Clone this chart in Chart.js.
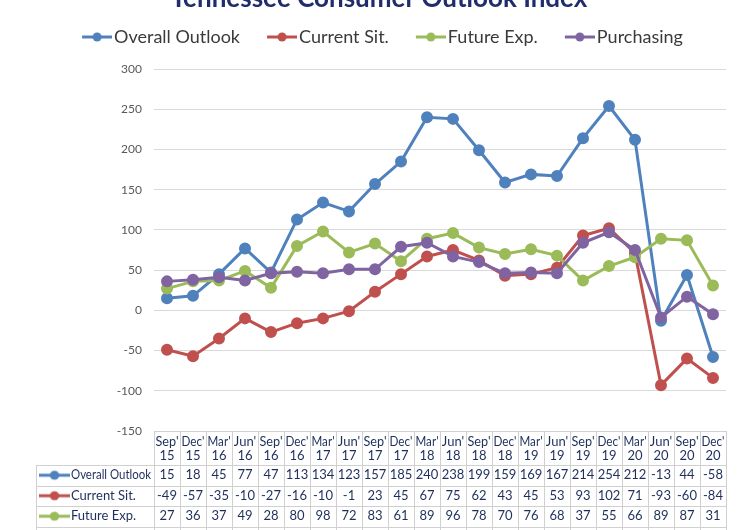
<!DOCTYPE html>
<html>
<head>
<meta charset="utf-8">
<title>Tennessee Consumer Outlook Index</title>
<script src="https://cdn.jsdelivr.net/npm/chart.js@4.4.1/dist/chart.umd.min.js"></script>
<style>
  html, body { margin: 0; padding: 0; background: #fff; }
  #wrap { position: relative; width: 750px; height: 530px; overflow: hidden; }
  #chart { position: absolute; left: 0; top: -20px; }
</style>
</head>
<body>
<div id="wrap"><canvas id="chart" width="750" height="550"></canvas></div>
<script>
// quarters shown on the x axis / table header
const categories = ["Sep' 15", "Dec' 15", "Mar' 16", "Jun' 16", "Sep' 16", "Dec' 16", "Mar' 17", "Jun' 17",
    "Sep' 17", "Dec' 17", "Mar' 18", "Jun' 18", "Sep' 18", "Dec' 18", "Mar' 19", "Jun' 19",
    "Sep' 19", "Dec' 19", "Mar' 20", "Jun' 20", "Sep' 20", "Dec' 20"];

const seriesNames = ['Overall Outlook', 'Current Sit.', 'Future Exp.', 'Purchasing'];
const overall = [15, 18, 45, 77, 47, 113, 134, 123, 157, 185, 240, 238, 199, 159, 169, 167, 214, 254, 212, -13, 44, -58];
const current = [-49, -57, -35, -10, -27, -16, -10, -1, 23, 45, 67, 75, 62, 43, 45, 53, 93, 102, 71, -93, -60, -84];
const future = [27, 36, 37, 49, 28, 80, 98, 72, 83, 61, 89, 96, 78, 70, 76, 68, 37, 55, 66, 89, 87, 31];
// purchasing row is cut off in the table
const purchasing = [36, 38, 41, 37, 46, 48, 46, 51, 51, 79, 84, 67, 60, 46, 47, 46, 84, 97, 75, -9, 17, -5];

const yTicks = { min: -150, max: 300, step: 50 };

const colors = ['#4F81BD', '#C0504D', '#9BBB59', '#8064A2'];
const textNavy = '#1F2F5C';
const gridGray = '#D9D9D9';
const FONT = 'Lato, "Open Sans", sans-serif';

// little line+dot key; pad shifts it right inside a wider canvas
function makeKey(color, pad) {
    const c = document.createElement('canvas');
    c.width = 30 + pad; c.height = 12;
    const g = c.getContext('2d');
    g.strokeStyle = color; g.lineWidth = 3;
    g.beginPath(); g.moveTo(pad, 6); g.lineTo(pad + 30, 6); g.stroke();
    g.fillStyle = color;
    g.beginPath(); g.arc(pad + 15, 6, 4.5, 0, Math.PI * 2); g.fill();
    return c;
}
const keys = colors.map(c => makeKey(c, 0));
const legendKeys = colors.map(c => makeKey(c, 14));

// stretch the gap below the legend
const legendGap = {
    id: 'legendGap',
    beforeInit(chart) {
        const fit = chart.legend.fit;
        chart.legend.fit = function () {
            fit.bind(chart.legend)();
            this.height += 13;
        };
    }
};

// data table under the plot, aligned to the category scale
const dataTable = {
    id: 'dataTable',
    afterDraw(chart) {
        const ctx = chart.ctx;
        const x = chart.scales.x;
        const area = chart.chartArea;
        const colW = (area.right - area.left) / categories.length;
        const top = area.bottom;
        const headH = 34;
        const rowH = 20.5;
        const labelLeft = 36;
        const rows = [overall, current, future, purchasing];
        const bottom = top + headH + rowH * rows.length;

        ctx.save();
        ctx.strokeStyle = '#D0D0D0';
        ctx.lineWidth = 1;
        ctx.beginPath();
        // vertical lines
        for (let i = 0; i <= categories.length; i++) {
            const px = Math.round(area.left + i * colW) + 0.5;
            ctx.moveTo(px, top);
            ctx.lineTo(px, bottom);
        }
        ctx.moveTo(labelLeft + 0.5, top + headH);
        ctx.lineTo(labelLeft + 0.5, bottom);
        // horizontal lines
        ctx.moveTo(area.left, Math.round(top) + 0.5);
        ctx.lineTo(area.right, Math.round(top) + 0.5);
        for (let r = 0; r <= rows.length; r++) {
            const py = Math.round(top + headH + r * rowH) + 0.5;
            ctx.moveTo(labelLeft, py);
            ctx.lineTo(area.right, py);
        }
        ctx.stroke();

        ctx.fillStyle = textNavy;
        ctx.font = '13px ' + FONT;
        ctx.textAlign = 'center';
        ctx.textBaseline = 'middle';
        const cellMax = colW - 3;
        categories.forEach((c, i) => {
            const cx = x.getPixelForValue(i);
            const parts = c.split(' ');
            ctx.fillText(parts[0], cx, top + 10.5, cellMax);
            ctx.fillText(parts[1], cx, top + 25, cellMax);
        });
        rows.forEach((vals, r) => {
            const cy = top + headH + r * rowH + rowH / 2;
            vals.forEach((v, i) => ctx.fillText(String(v), x.getPixelForValue(i), cy, cellMax));
            ctx.drawImage(keys[r], 39, cy - 6, 31, 12);
            ctx.textAlign = 'left';
            ctx.fillText(seriesNames[r], 71, cy, 80);
            ctx.textAlign = 'center';
        });
        ctx.restore();
    }
};

const seriesData = [overall, current, future, purchasing];

new Chart(document.getElementById('chart'), {
    type: 'line',
    data: {
        labels: categories,
        datasets: seriesData.map((d, i) => ({
            label: seriesNames[i],
            data: d,
            borderColor: colors[i],
            backgroundColor: colors[i],
            pointBackgroundColor: colors[i],
            pointBorderColor: colors[i],
            borderWidth: 3,
            pointRadius: 4.5,
            tension: 0,
            order: seriesData.length - i
        }))
    },
    options: {
        responsive: false,
        animation: false,
        layout: { padding: { left: 32, right: 24, top: 0, bottom: 91 } },
        plugins: {
            title: {
                display: true,
                text: 'Tennessee Consumer Outlook Index',
                color: '#1F2D6B',
                font: { family: FONT, size: 26, weight: 'bold', lineHeight: 0.5 },
                padding: { top: 12, bottom: 3 }
            },
            legend: {
                position: 'top',
                labels: {
                    usePointStyle: true,
                    pointStyleWidth: 30,
                    color: '#3A3A3A',
                    font: { family: FONT, size: 18 },
                    padding: 20,
                    sort: (a, b) => a.datasetIndex - b.datasetIndex,
                    generateLabels(chart) {
                        const items = Chart.defaults.plugins.legend.labels.generateLabels(chart);
                        items.forEach(it => { it.pointStyle = legendKeys[it.datasetIndex]; });
                        return items;
                    }
                }
            },
            tooltip: { enabled: false }
        },
        scales: {
            x: {
                offset: true,
                grid: { display: false },
                border: { display: false },
                ticks: { display: false }
            },
            y: {
                min: yTicks.min,
                max: yTicks.max,
                afterFit(scale) { scale.width = 122; },
                ticks: {
                    stepSize: yTicks.step,
                    padding: 12,
                    color: '#595959',
                    font: { family: FONT, size: 12 }
                },
                grid: { color: gridGray, drawTicks: false },
                border: { display: false }
            }
        }
    },
    plugins: [legendGap, dataTable]
});
</script>
</body>
</html>
